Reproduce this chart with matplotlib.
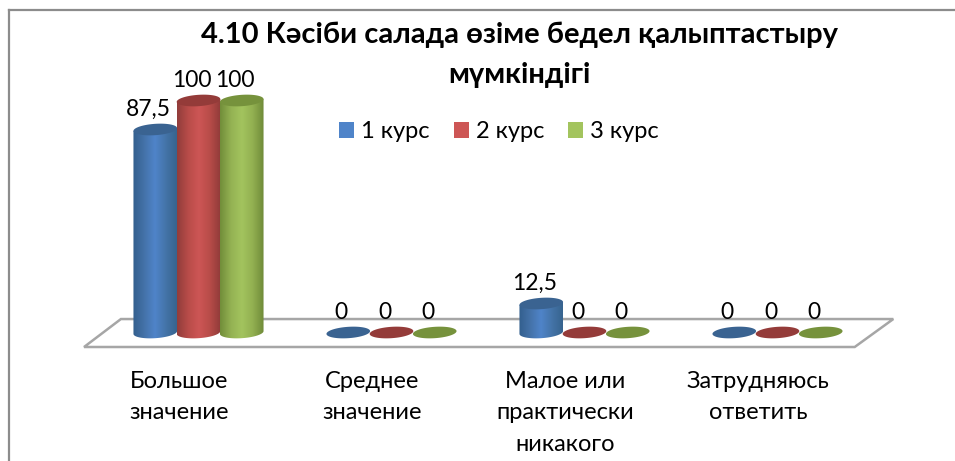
import numpy as np
import matplotlib
matplotlib.use('Agg')
import matplotlib.pyplot as plt
from matplotlib.colors import LinearSegmentedColormap
from matplotlib.patches import Polygon, Rectangle

plt.rcParams['font.family'] = ['Lato', 'Noto Sans', 'DejaVu Sans']

title_lines = ['4.10 Кәсіби салада өзіме бедел қалыптастыру', 'мүмкіндігі']
categories = ['Большое\nзначение', 'Среднее\nзначение', 'Малое или\nпрактически\nникакого', 'Затрудняюсь\nответить']
series_names = ['1 курс', '2 курс', '3 курс']
kurs1 = [87.5, 0, 12.5, 0]
kurs2 = [100, 0, 0, 0]
kurs3 = [100, 0, 0, 0]
series = [kurs1, kurs2, kurs3]

# edge, mid, light, mid, edge of each cylinder, then the cap colour
body_colors = [['#335f8e', '#4472a8', '#4f84c9', '#4474a8', '#37648f'],
               ['#923d3b', '#b84c49', '#cd5655', '#b84c49', '#903b39'],
               ['#728e3a', '#94b253', '#a3c45e', '#92b051', '#708b39']]
cap_colors = ['#3a6391', '#943b39', '#76923c']

px_x = 193.0     # pixels per category
px_y = 2.32      # pixels per percent
bar_w = 0.224
a = 0.113
b = 2.45
tilt = 0.6

fig = plt.figure(figsize=(9.55, 4.61), dpi=100)
ax = fig.add_axes([0, 0, 1, 1])
xlim = (-198.5 / px_x, (955 - 198.5) / px_x)
ylim = ((332.5 - 461) / px_y, 332.5 / px_y)
ax.set_axis_off()

# outer frame, open on the right and bottom
ax.plot([9 / 955, 9 / 955], [0, 1 - 10 / 461], color='#8c8c8c', lw=1.6, transform=ax.transAxes)
ax.plot([9 / 955, 1], [1 - 10 / 461, 1 - 10 / 461], color='#8c8c8c', lw=1.6, transform=ax.transAxes)

# floor
floor = Polygon([(-0.593, -6.25), (-0.402, 5.8), (3.60, 5.8), (3.40, -6.25)], closed=True,
                facecolor='white', edgecolor='#a6a6a6', lw=1.8, joinstyle='miter', zorder=1)
ax.add_patch(floor)

t = np.linspace(0, 2 * np.pi, 80)
z = 2
for s, values in enumerate(series):
    cmap = LinearSegmentedColormap.from_list('c%d' % s, body_colors[s])
    for i, v in enumerate(values):
        cx = i + (s - 1) * bar_w
        if v > 0:
            low = np.linspace(np.pi, 2 * np.pi, 40)
            xs = cx + a * np.cos(low)
            ys = b * np.sin(low) + tilt * np.cos(low)
            pts = [(cx - a, v + tilt * -1)] + list(zip(xs, ys)) + [(cx + a, v + tilt)]
            body = Polygon(pts, closed=True, facecolor='none', edgecolor='none', zorder=z)
            ax.add_patch(body)
            im = ax.imshow(np.linspace(0, 1, 64).reshape(1, -1), cmap=cmap, aspect='auto',
                           extent=(cx - a, cx + a, -b - 1, v + b), zorder=z, interpolation='bilinear')
            im.set_clip_path(body)
        cap = Polygon(list(zip(cx + a * np.cos(t), v + b * np.sin(t) + tilt * np.cos(t))),
                      closed=True, facecolor=cap_colors[s], edgecolor='none', zorder=z + 0.5)
        ax.add_patch(cap)
        label = ('%g' % v).replace('.', ',')
        ax.text(cx - 0.036, v + 6, label, ha='center', va='baseline', fontsize=16.5, color='black', zorder=10)
        z += 1

for i, name in enumerate(categories):
    ax.text(i - 0.1, -16.5, name, ha='center', va='top', fontsize=17, linespacing=1.62, color='black')

# two separate lines, the second one is only as wide as its own word
for line, y in zip(title_lines, [124.8, 107.6]):
    ax.text((519 - 198.5) / px_x, y, line, ha='center', va='baseline', fontsize=21, fontweight='bold',
            color='black')

handles = [Rectangle((0, 0), 1, 1, facecolor=body_colors[s][2]) for s in range(3)]
ax.legend(handles, series_names, ncol=3, frameon=False, fontsize=17, loc='center',
          bbox_to_anchor=(499 / 955, 1 - 132 / 461), handlelength=0.65, handleheight=0.65,
          handletextpad=0.3, columnspacing=1.0)

ax.set_xlim(xlim)
ax.set_ylim(ylim)
fig.savefig('out.png', dpi=100, facecolor='white')
